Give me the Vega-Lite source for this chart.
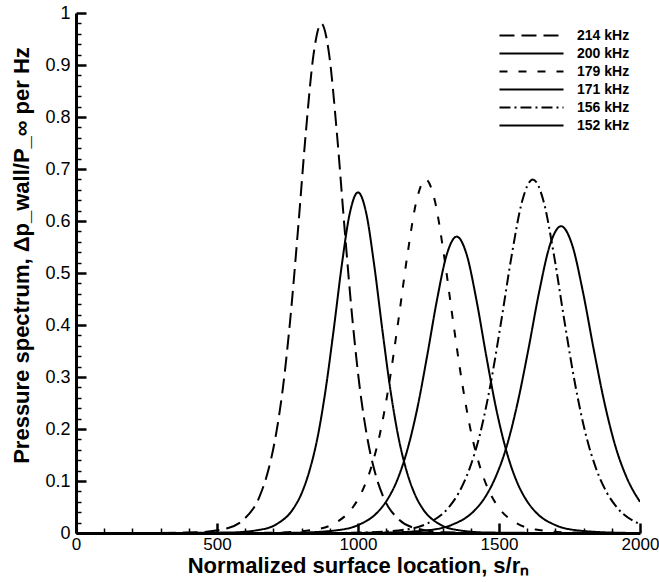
{
  "$schema": "https://vega.github.io/schema/vega-lite/v6.json",
  "width": 564,
  "height": 520,
  "autosize": "none",
  "padding": {"left": 76, "top": 13, "right": 19, "bottom": 49},
  "background": "white",
  "config": {"view": {"stroke": null}, "font": "Liberation Sans"},
  "data": {"values": [
    {"f": "214 kHz", "x": 300, "y": 0},
    {"f": "214 kHz", "x": 430, "y": 0.0013},
    {"f": "214 kHz", "x": 540, "y": 0.0097},
    {"f": "214 kHz", "x": 595, "y": 0.026},
    {"f": "214 kHz", "x": 650, "y": 0.069},
    {"f": "214 kHz", "x": 677.5, "y": 0.112},
    {"f": "214 kHz", "x": 705, "y": 0.177},
    {"f": "214 kHz", "x": 732.5, "y": 0.274},
    {"f": "214 kHz", "x": 760, "y": 0.412},
    {"f": "214 kHz", "x": 787.5, "y": 0.585},
    {"f": "214 kHz", "x": 815, "y": 0.77},
    {"f": "214 kHz", "x": 842.5, "y": 0.921},
    {"f": "214 kHz", "x": 870, "y": 0.98},
    {"f": "214 kHz", "x": 897.5, "y": 0.921},
    {"f": "214 kHz", "x": 925, "y": 0.77},
    {"f": "214 kHz", "x": 952.5, "y": 0.585},
    {"f": "214 kHz", "x": 980, "y": 0.412},
    {"f": "214 kHz", "x": 1007.5, "y": 0.274},
    {"f": "214 kHz", "x": 1035, "y": 0.177},
    {"f": "214 kHz", "x": 1062.5, "y": 0.112},
    {"f": "214 kHz", "x": 1090, "y": 0.069},
    {"f": "214 kHz", "x": 1145, "y": 0.026},
    {"f": "214 kHz", "x": 1200, "y": 0.0097},
    {"f": "214 kHz", "x": 1310, "y": 0.0013},
    {"f": "214 kHz", "x": 1500, "y": 0},

    {"f": "200 kHz", "x": 250, "y": 0},
    {"f": "200 kHz", "x": 540, "y": 0.0009},
    {"f": "200 kHz", "x": 655, "y": 0.0065},
    {"f": "200 kHz", "x": 712.5, "y": 0.0174},
    {"f": "200 kHz", "x": 770, "y": 0.0463},
    {"f": "200 kHz", "x": 798.8, "y": 0.0747},
    {"f": "200 kHz", "x": 827.5, "y": 0.119},
    {"f": "200 kHz", "x": 856.3, "y": 0.183},
    {"f": "200 kHz", "x": 885, "y": 0.275},
    {"f": "200 kHz", "x": 913.8, "y": 0.391},
    {"f": "200 kHz", "x": 942.5, "y": 0.515},
    {"f": "200 kHz", "x": 971.3, "y": 0.616},
    {"f": "200 kHz", "x": 1000, "y": 0.655},
    {"f": "200 kHz", "x": 1028.8, "y": 0.616},
    {"f": "200 kHz", "x": 1057.5, "y": 0.515},
    {"f": "200 kHz", "x": 1086.3, "y": 0.391},
    {"f": "200 kHz", "x": 1115, "y": 0.275},
    {"f": "200 kHz", "x": 1143.8, "y": 0.183},
    {"f": "200 kHz", "x": 1172.5, "y": 0.119},
    {"f": "200 kHz", "x": 1201.3, "y": 0.0747},
    {"f": "200 kHz", "x": 1230, "y": 0.0463},
    {"f": "200 kHz", "x": 1287.5, "y": 0.0174},
    {"f": "200 kHz", "x": 1345, "y": 0.0065},
    {"f": "200 kHz", "x": 1460, "y": 0.0009},
    {"f": "200 kHz", "x": 1700, "y": 0},

    {"f": "179 kHz", "x": 600, "y": 0},
    {"f": "179 kHz", "x": 720, "y": 0.0009},
    {"f": "179 kHz", "x": 850, "y": 0.0067},
    {"f": "179 kHz", "x": 915, "y": 0.0181},
    {"f": "179 kHz", "x": 980, "y": 0.0481},
    {"f": "179 kHz", "x": 1012.5, "y": 0.0775},
    {"f": "179 kHz", "x": 1045, "y": 0.123},
    {"f": "179 kHz", "x": 1077.5, "y": 0.19},
    {"f": "179 kHz", "x": 1110, "y": 0.286},
    {"f": "179 kHz", "x": 1142.5, "y": 0.406},
    {"f": "179 kHz", "x": 1175, "y": 0.534},
    {"f": "179 kHz", "x": 1207.5, "y": 0.639},
    {"f": "179 kHz", "x": 1240, "y": 0.68},
    {"f": "179 kHz", "x": 1272.5, "y": 0.639},
    {"f": "179 kHz", "x": 1305, "y": 0.534},
    {"f": "179 kHz", "x": 1337.5, "y": 0.406},
    {"f": "179 kHz", "x": 1370, "y": 0.286},
    {"f": "179 kHz", "x": 1402.5, "y": 0.19},
    {"f": "179 kHz", "x": 1435, "y": 0.123},
    {"f": "179 kHz", "x": 1467.5, "y": 0.0775},
    {"f": "179 kHz", "x": 1500, "y": 0.0481},
    {"f": "179 kHz", "x": 1565, "y": 0.0181},
    {"f": "179 kHz", "x": 1630, "y": 0.0067},
    {"f": "179 kHz", "x": 1760, "y": 0.0009},
    {"f": "179 kHz", "x": 1900, "y": 0},

    {"f": "171 kHz", "x": 650, "y": 0},
    {"f": "171 kHz", "x": 790, "y": 0.0007},
    {"f": "171 kHz", "x": 930, "y": 0.0056},
    {"f": "171 kHz", "x": 1000, "y": 0.0152},
    {"f": "171 kHz", "x": 1070, "y": 0.0403},
    {"f": "171 kHz", "x": 1105, "y": 0.065},
    {"f": "171 kHz", "x": 1140, "y": 0.103},
    {"f": "171 kHz", "x": 1175, "y": 0.16},
    {"f": "171 kHz", "x": 1210, "y": 0.239},
    {"f": "171 kHz", "x": 1245, "y": 0.34},
    {"f": "171 kHz", "x": 1280, "y": 0.448},
    {"f": "171 kHz", "x": 1315, "y": 0.536},
    {"f": "171 kHz", "x": 1350, "y": 0.57},
    {"f": "171 kHz", "x": 1385, "y": 0.536},
    {"f": "171 kHz", "x": 1420, "y": 0.448},
    {"f": "171 kHz", "x": 1455, "y": 0.34},
    {"f": "171 kHz", "x": 1490, "y": 0.239},
    {"f": "171 kHz", "x": 1525, "y": 0.16},
    {"f": "171 kHz", "x": 1560, "y": 0.103},
    {"f": "171 kHz", "x": 1595, "y": 0.065},
    {"f": "171 kHz", "x": 1630, "y": 0.0403},
    {"f": "171 kHz", "x": 1700, "y": 0.0152},
    {"f": "171 kHz", "x": 1770, "y": 0.0056},
    {"f": "171 kHz", "x": 1910, "y": 0.0007},
    {"f": "171 kHz", "x": 2000, "y": 0},

    {"f": "156 kHz", "x": 900, "y": 0},
    {"f": "156 kHz", "x": 1020, "y": 0.0009},
    {"f": "156 kHz", "x": 1170, "y": 0.0067},
    {"f": "156 kHz", "x": 1245, "y": 0.0181},
    {"f": "156 kHz", "x": 1320, "y": 0.0481},
    {"f": "156 kHz", "x": 1357.5, "y": 0.0775},
    {"f": "156 kHz", "x": 1395, "y": 0.123},
    {"f": "156 kHz", "x": 1432.5, "y": 0.19},
    {"f": "156 kHz", "x": 1470, "y": 0.286},
    {"f": "156 kHz", "x": 1507.5, "y": 0.406},
    {"f": "156 kHz", "x": 1545, "y": 0.534},
    {"f": "156 kHz", "x": 1582.5, "y": 0.639},
    {"f": "156 kHz", "x": 1620, "y": 0.68},
    {"f": "156 kHz", "x": 1657.5, "y": 0.639},
    {"f": "156 kHz", "x": 1695, "y": 0.534},
    {"f": "156 kHz", "x": 1732.5, "y": 0.406},
    {"f": "156 kHz", "x": 1770, "y": 0.286},
    {"f": "156 kHz", "x": 1807.5, "y": 0.19},
    {"f": "156 kHz", "x": 1845, "y": 0.123},
    {"f": "156 kHz", "x": 1882.5, "y": 0.0775},
    {"f": "156 kHz", "x": 1920, "y": 0.0481},
    {"f": "156 kHz", "x": 2000, "y": 0.017},

    {"f": "152 kHz", "x": 950, "y": 0},
    {"f": "152 kHz", "x": 1100, "y": 0.0008},
    {"f": "152 kHz", "x": 1255, "y": 0.0058},
    {"f": "152 kHz", "x": 1332.5, "y": 0.0157},
    {"f": "152 kHz", "x": 1410, "y": 0.0417},
    {"f": "152 kHz", "x": 1448.8, "y": 0.0673},
    {"f": "152 kHz", "x": 1487.5, "y": 0.107},
    {"f": "152 kHz", "x": 1526.3, "y": 0.165},
    {"f": "152 kHz", "x": 1565, "y": 0.248},
    {"f": "152 kHz", "x": 1603.8, "y": 0.352},
    {"f": "152 kHz", "x": 1642.5, "y": 0.464},
    {"f": "152 kHz", "x": 1681.3, "y": 0.555},
    {"f": "152 kHz", "x": 1720, "y": 0.59},
    {"f": "152 kHz", "x": 1758.8, "y": 0.555},
    {"f": "152 kHz", "x": 1797.5, "y": 0.464},
    {"f": "152 kHz", "x": 1836.3, "y": 0.352},
    {"f": "152 kHz", "x": 1875, "y": 0.248},
    {"f": "152 kHz", "x": 1913.8, "y": 0.165},
    {"f": "152 kHz", "x": 1952.5, "y": 0.107},
    {"f": "152 kHz", "x": 2000, "y": 0.06}
  ]},
  "layer": [
    {
      "mark": {"type": "line", "strokeWidth": 2, "color": "black", "interpolate": "monotone", "clip": true},
      "encoding": {
        "x": {
          "field": "x", "type": "quantitative",
          "scale": {"domain": [0, 2000], "nice": false, "zero": false},
          "axis": {
            "orient": "bottom",
            "title": "Normalized surface location, s/rₙ",
            "values": [0, 500, 1000, 1500, 2000],
            "format": "d",
            "ticks": true, "tickSize": -10, "tickWidth": 2.5, "tickColor": "black",
            "domainWidth": 3, "domainColor": "black",
            "labelFont": "Liberation Sans", "labelFontSize": 17, "labelColor": "black", "labelPadding": 13,
            "labelFlush": false, "labelOverlap": false,
            "titleFont": "Liberation Sans", "titleFontSize": 22, "titleFontWeight": "bold", "titleColor": "black", "titlePadding": 3,
            "grid": false
          }
        },
        "y": {
          "field": "y", "type": "quantitative",
          "scale": {"domain": [0, 1], "nice": false},
          "axis": {
            "orient": "left",
            "title": "Pressure spectrum, Δp_wall/P_∞ per Hz",
            "values": [0, 0.1, 0.2, 0.3, 0.4, 0.5, 0.6, 0.7, 0.8, 0.9, 1],
            "labelExpr": "format(datum.value, '~g')",
            "ticks": true, "tickSize": -10, "tickWidth": 2.5, "tickColor": "black",
            "domainWidth": 3, "domainColor": "black",
            "labelFont": "Liberation Sans", "labelFontSize": 18, "labelColor": "black", "labelPadding": 16,
            "labelFlush": false, "labelOverlap": false,
            "titleFont": "Liberation Sans", "titleFontSize": 22, "titleFontWeight": "bold", "titleColor": "black", "titlePadding": 11,
            "titleY": 242,
            "grid": false
          }
        },
        "strokeDash": {
          "field": "f", "type": "nominal",
          "scale": {
            "domain": ["214 kHz", "200 kHz", "179 kHz", "171 kHz", "156 kHz", "152 kHz"],
            "range": [[15, 7], [1, 0], [8, 11], [1, 0], [11, 4, 2, 4], [1, 0]]
          },
          "legend": {
            "title": null, "orient": "none", "legendX": 448, "legendY": 15,
            "symbolType": "M-5,0H5", "symbolSize": 164, "symbolStrokeWidth": 2, "symbolStrokeColor": "black", "symbolFillColor": "transparent",
            "labelFont": "Liberation Sans", "labelFontSize": 14, "labelFontWeight": "bold", "labelColor": "black",
            "labelOffset": 38, "rowPadding": 3, "padding": 0
          }
        }
      }
    },
    {
      "mark": {"type": "point", "opacity": 0},
      "encoding": {
        "x": {
          "field": "x", "type": "quantitative",
          "axis": {
            "orient": "top", "offset": -520,
            "values": [100,200,300,400,600,700,800,900,1100,1200,1300,1400,1600,1700,1800,1900],
            "labels": false, "domain": false, "title": null, "grid": false,
            "ticks": true, "tickColor": "black", "tickSize": 5, "tickWidth": 1.5
          }
        },
        "y": {
          "field": "y", "type": "quantitative",
          "axis": {
            "orient": "right", "offset": -564,
            "values": [0.02,0.04,0.06,0.08,0.12,0.14,0.16,0.18,0.22,0.24,0.26,0.28,0.32,0.34,0.36,0.38,0.42,0.44,0.46,0.48,0.52,0.54,0.56,0.58,0.62,0.64,0.66,0.68,0.72,0.74,0.76,0.78,0.82,0.84,0.86,0.88,0.92,0.94,0.96,0.98],
            "labels": false, "domain": false, "title": null, "grid": false,
            "ticks": true, "tickColor": "black", "tickSize": 5, "tickWidth": 1.5
          }
        }
      }
    }
  ],
  "resolve": {"axis": {"x": "independent", "y": "independent"}}
}
